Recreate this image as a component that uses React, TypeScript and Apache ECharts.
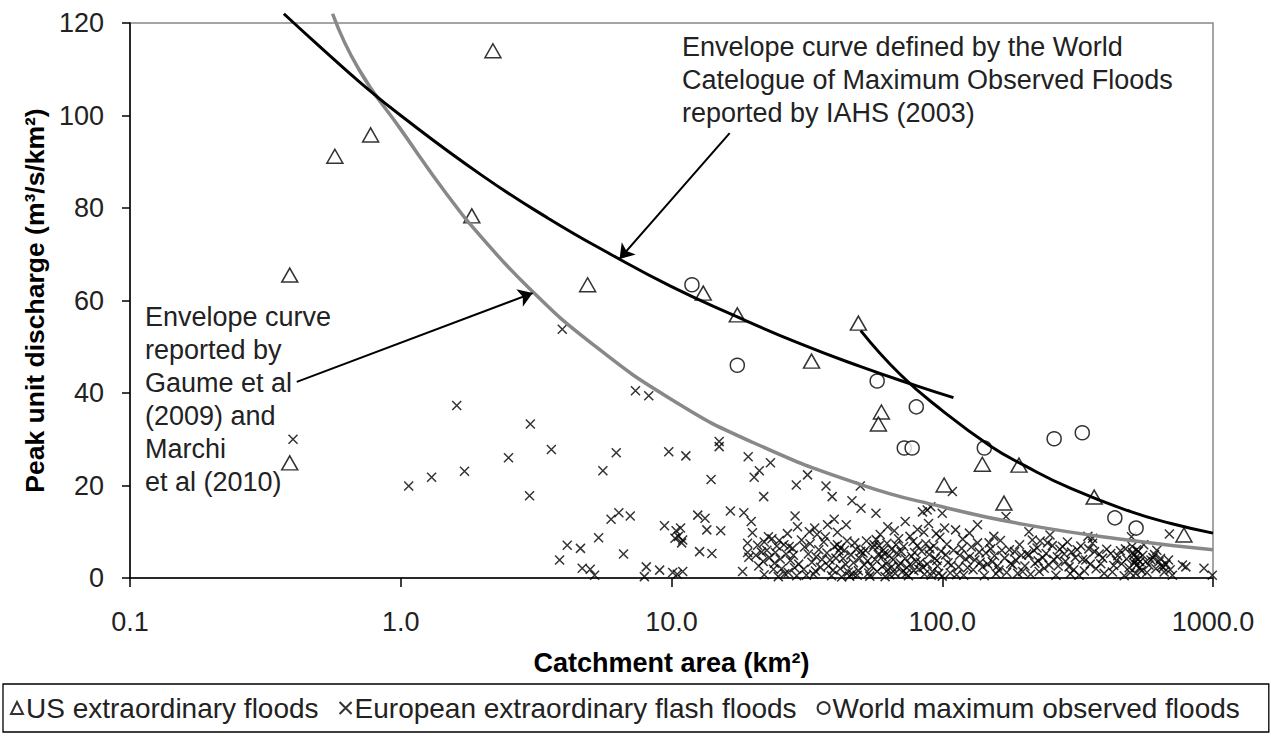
import React, { useEffect, useRef } from "react";
import * as echarts from "echarts";

// ---------- data ----------
const usFloods: number[][] = [
  [0.389, 65.5], [0.389, 24.9], [0.571, 91.2], [0.774, 95.8], [1.83, 78.3], [2.19, 114.0],
  [4.9, 63.4], [13.1, 61.6], [17.5, 56.9], [32.9, 46.9], [49.0, 55.1], [59.6, 35.9],
  [58.1, 33.3], [101.6, 20.1], [140.6, 24.6], [192, 24.4], [169, 16.2], [364, 17.5], [781, 9.3],
];

const worldFloods: number[][] = [
  [11.9, 63.4], [17.5, 46.0], [57.5, 42.6], [80.2, 37.0], [72.4, 28.1], [77.4, 28.1],
  [143, 28.1], [259, 30.1], [329, 31.4], [434, 13.0], [520, 10.8],
];

const europeFloods: number[][] = [
  [0.4, 30.0], [1.07, 19.9], [1.3, 21.8], [1.61, 37.3], [1.72, 23.1], [2.5, 26.0], [2.99, 17.8],
  [3.01, 33.3], [3.6, 27.8], [3.95, 53.8], [3.86, 3.9], [4.12, 7.1], [4.61, 6.4], [4.68, 2.1],
  [5.01, 1.9], [5.2, 0.6], [5.38, 8.7], [5.58, 23.2], [5.98, 12.7], [6.25, 27.1], [6.39, 14.1],
  [6.65, 5.2], [7.04, 13.4], [7.36, 40.5], [7.94, 0.3], [8.07, 2.4], [8.24, 39.4], [9.04, 1.7],
  [9.42, 11.3], [9.77, 27.3], [10.1, 1.2], [10.3, 8.6], [10.4, 10.2], [10.6, 9.0], [10.9, 7.6],
  [11.0, 8.2], [10.8, 10.8], [11.0, 1.4], [10.5, 0.8], [11.3, 26.4], [12.5, 13.6], [12.7, 5.7],
  [13.3, 12.9], [13.5, 10.4], [14.0, 21.3], [14.1, 5.3], [15.0, 29.5], [15.0, 28.4], [15.2, 10.2],
  [16.5, 14.5], [18.3, 1.4], [18.5, 14.1], [19.1, 7.5], [19.1, 5.5], [19.3, 4.5], [19.2, 26.2],
  [19.7, 12.2], [19.9, 9.8], [20.2, 21.8], [21.1, 23.2], [21.9, 17.6], [23.2, 24.9], [28.6, 13.4],
  [28.9, 20.1], [29.2, 11.1], [31.8, 22.3], [32.3, 10.0], [37.2, 19.9], [37.7, 11.5], [39.2, 17.6],
  [39.9, 12.7], [44.2, 11.5], [46.4, 16.7], [49.8, 19.9], [50.1, 15.1], [56.9, 14.0], [62.9, 11.1],
  [73.0, 12.2], [84.5, 14.3], [88, 14.7], [90.7, 15.4], [100, 14.0], [109, 18.7], [172, 13.3],
  [209, 10.0], [215, 8.2], [359, 8.6], [794, 2.4], [926, 2.1], [994, 0.6], [708, 0.6], [771, 2.8],
  [22, 7.8], [23.5, 8.5], [24.5, 6.9], [25, 8.1], [26, 7.2], [22.5, 6.0], [23, 4.4], [24, 3.2],
  [25.5, 2.0], [27, 1.2], [21, 2.6], [22, 0.7], [26.5, 5.2], [27.5, 3.8], [28, 6.4], [29, 0.5],
  [20.5, 4.9], [24.8, 0.3], [28.5, 2.2],
  [31, 6.7], [32, 5.2], [33, 3.4], [34, 1.5], [31.5, 0.6], [35, 6.1], [36, 4.0], [38, 2.6],
  [40, 6.8], [41, 7.2], [42, 6.5], [41.5, 5.9], [43, 4.2], [44, 2.9], [45, 1.3], [45.5, 0.4],
  [46.5, 0.9], [39, 0.5], [37, 8.9], [34.5, 9.4], [42.5, 0.2],
  [48, 6.2], [50, 5.8], [51, 5.4], [52, 6.0], [53, 3.7], [55, 2.5], [57, 8.3], [58, 5.1],
  [60, 4.6], [60.5, 6.0], [61, 5.3], [62, 3.1], [63, 1.8], [64, 0.7], [54, 0.4], [49, 1.6],
  [47, 3.3], [56, 7.2], [59, 9.4], [65, 2.4],
  [66, 4.0], [68, 5.4], [70, 3.2], [71, 1.3], [72, 6.8], [74, 2.2], [75, 0.5], [77, 4.7],
  [78, 7.9], [80, 3.6], [82, 1.9], [84, 5.8], [86, 0.8], [88, 3.0], [90, 6.3], [92, 1.4],
  [94, 4.2], [96, 2.6], [98, 8.8], [100, 0.4], [103, 5.0], [105, 3.3], [107, 1.1], [95, 9.6],
  [69, 8.5], [81, 10.5], [89, 11.8], [76, 9.0],
  [112, 10.4], [115, 2.4], [118, 6.4], [122, 4.1], [126, 9.7], [126, 4.6], [130, 1.8], [135, 7.6],
  [138, 3.4], [141, 2.4], [145, 5.4], [149, 7.6], [153, 3.5], [158, 0.9], [162, 1.7], [166, 6.0],
  [170, 4.3], [177, 6.1], [182, 2.8], [187, 3.9], [193, 7.2], [198, 1.4], [135, 11.5], [155, 9.0],
  [120, 0.6], [102, 10.8],
  [205, 5.2], [209, 5.0], [220, 3.2], [224, 6.5], [228, 1.4], [235, 4.4], [242, 5.3], [248, 2.8],
  [255, 7.0], [263, 0.6], [266, 4.6], [272, 6.2], [278, 6.8], [285, 3.6], [294, 2.4], [300, 5.6],
  [306, 1.8], [315, 6.1], [320, 0.6], [330, 4.0], [339, 3.9], [348, 6.3], [359, 7.5], [370, 2.0],
  [380, 5.2], [391, 4.3], [396, 1.0], [230, 8.0], [250, 9.3], [290, 7.8], [345, 9.0],
  [419, 5.3], [430, 2.7], [445, 4.8], [460, 3.1], [475, 6.3], [490, 2.2], [503, 6.8], [510, 5.0],
  [515, 3.8], [520, 4.5], [525, 2.9], [530, 5.8], [537, 3.5], [518, 1.0], [545, 1.6], [565, 3.5],
  [580, 2.8], [600, 4.4], [615, 2.0], [632, 3.5], [645, 2.6], [660, 1.3], [685, 3.9], [470, 0.5],
  [555, 7.2], [620, 6.0], [500, 8.9], [690, 9.5],
  [20.8, 7.1], [21.5, 5.6], [22.8, 8.9], [23.8, 1.9], [24.2, 5.5], [25.2, 4.1], [26.2, 0.9],
  [27.2, 6.8], [28.2, 4.9], [29.5, 3.0], [30.2, 8.2], [30.8, 1.9], [32.5, 7.4], [33.5, 0.8],
  [34.2, 4.6], [35.5, 2.3], [36.5, 7.8], [37.5, 5.4], [38.5, 3.9], [39.5, 1.7], [40.5, 4.3],
  [42, 2.0], [43.5, 6.0], [44.5, 8.0], [21.8, 3.6], [26.8, 9.6], [33.8, 10.8], [41, 9.9],
  [46, 5.0], [47.5, 7.6], [48.5, 0.6], [49.5, 4.2], [51.5, 2.8], [52.5, 8.0], [53.5, 1.1],
  [55.5, 6.6], [56.5, 4.0], [57.5, 1.4], [58.5, 7.0], [60, 2.5], [61.5, 0.3], [62.5, 7.5],
  [63.5, 4.8], [65, 6.2], [67, 1.0], [67.5, 7.2], [69, 2.6], [70.5, 5.7], [73, 4.2], [73.5, 0.9],
  [76, 2.9], [78.5, 1.6], [79, 5.5], [81, 7.0], [83, 3.4], [85, 2.3], [87, 7.4], [89.5, 5.1],
  [91, 0.6], [93, 6.9], [95.5, 3.8], [97, 1.0], [99, 5.8], [66.5, 10.2], [85.5, 9.9],
  [104, 7.3], [108, 2.8], [110, 6.0], [113, 0.7], [116, 4.9], [119, 8.4], [124, 2.2], [128, 6.7],
  [132, 3.9], [137, 5.6], [143, 0.5], [147, 3.0], [151, 6.3], [156, 4.8], [160, 2.6], [164, 8.1],
  [173, 1.2], [179, 3.1], [185, 5.7], [190, 1.0], [196, 4.9], [202, 2.6], [212, 0.8], [218, 6.0],
  [226, 3.7], [238, 2.1], [245, 7.6], [258, 4.0], [268, 2.6], [282, 5.2], [297, 0.9], [310, 4.4],
  [325, 6.9], [335, 1.5], [352, 3.0], [365, 5.7], [385, 3.1], [405, 6.2], [425, 1.3], [440, 3.8],
  [455, 5.9], [480, 4.1], [495, 1.2], [505, 5.5], [512, 3.2], [522, 6.1], [528, 4.0], [535, 2.2],
  [550, 4.9], [570, 1.2], [590, 3.9], [608, 5.1], [640, 4.2], [655, 2.3], [670, 3.0], [695, 1.8],
];

// envelope curves
const worldEnvelopeA: number[][] = [
  [0.37, 122], [0.5, 115], [0.7, 107.4], [1, 100], [2, 87], [3.5, 77.8], [6, 69.9],
  [10, 63], [17, 56.8], [30, 50.6], [50, 45.7], [80, 41.6], [110, 39],
];
const worldEnvelopeB: number[][] = [
  [50, 53.5], [70, 44], [100, 36.2], [150, 28.6], [200, 24.4], [300, 19.3], [500, 14.3],
  [700, 11.8], [1000, 9.7],
];
const gaumeEnvelope: number[][] = [
  [0.56, 122], [0.7, 110], [1, 97], [1.5, 82.5], [2, 73.5], [3, 62.5], [5, 51], [10, 38.6],
  [20, 29.3], [50, 20.2], [100, 15.4], [200, 11.6], [500, 8.1], [1000, 6.1],
];

// annotation arrows (data coordinates: from -> to)
const arrowWorld: number[][] = [[16.4, 96.2], [6.43, 69]];
const arrowGaume: number[][] = [[0.413, 42.4], [3.07, 61.6]];

const seriesNames = [
  "US extraordinary floods",
  "European extraordinary flash floods",
  "World maximum observed floods",
];
const yTicks = [0, 20, 40, 60, 80, 100, 120];

const FONT = '"Liberation Sans", Arial, sans-serif';

export default function App() {
  const ref = useRef<HTMLDivElement>(null);
  useEffect(() => {
    if (!ref.current) return;
    const chart = echarts.init(ref.current, undefined, { renderer: "svg" });
    const crossPath = "path://M0,0L10,10M0,10L10,0";
    chart.setOption({
      animation: false,
      backgroundColor: "#fff",
      textStyle: { fontFamily: FONT },
      grid: {
        left: 130, right: 58, top: 23, bottom: 167,
        show: true, borderColor: "#888", borderWidth: 1.5, backgroundColor: "transparent",
      },
      xAxis: {
        type: "log", logBase: 10, min: 0.1, max: 1000,
        name: "Catchment area (km²)", nameLocation: "middle", nameGap: 71,
        nameTextStyle: { fontSize: 27, fontWeight: "bold", color: "#000", fontFamily: FONT },
        axisLine: { show: true, onZero: false, lineStyle: { color: "#000", width: 1.5 } },
        axisTick: { show: true, length: 9, inside: false, lineStyle: { color: "#000", width: 1.5 } },
        minorTick: { show: false },
        splitLine: { show: false },
        axisLabel: {
          fontSize: 27, color: "#222", margin: 30, fontFamily: FONT,
          formatter: (v: number) => (v < 1 ? String(Math.round(v * 10) / 10) : (Math.round(v)).toFixed(1)),
        },
      },
      yAxis: {
        type: "value", min: yTicks[0], max: yTicks[yTicks.length - 1], interval: 20,
        name: "Peak unit discharge (m³/s/km²)", nameLocation: "middle", nameGap: 76,
        nameTextStyle: { fontSize: 26.5, fontWeight: "bold", color: "#000", fontFamily: FONT },
        axisLine: { show: true, lineStyle: { color: "#000", width: 1.5 } },
        axisTick: { show: true, length: 8, lineStyle: { color: "#000", width: 1.5 } },
        splitLine: { show: false },
        axisLabel: { fontSize: 27, color: "#222", margin: 26, fontFamily: FONT },
      },
      legend: {
        data: seriesNames,
        left: 3, top: 684,
        orient: "horizontal",
        borderColor: "#000", borderWidth: 1.3,
        padding: [10, 29, 10, 7],
        itemGap: 20, itemWidth: 12, itemHeight: 12,
        textStyle: { fontSize: 28, color: "#222", fontFamily: FONT, padding: [0, 0, 0, -2] },
      },
      graphic: [
        {
          type: "text", left: 682, top: 30, z: 10,
          style: {
            text: "Envelope curve defined by the World\nCatelogue of Maximum Observed Floods\nreported by IAHS (2003)",
            fontSize: 27, fontFamily: FONT, lineHeight: 33, fill: "#222",
          },
        },
        {
          type: "text", left: 145, top: 300, z: 10,
          style: {
            text: "Envelope curve\nreported by\nGaume et al\n(2009) and\nMarchi\net al (2010)",
            fontSize: 27, fontFamily: FONT, lineHeight: 33, fill: "#222",
          },
        },
      ],
      series: [
        {
          name: seriesNames[1], type: "scatter", data: europeFloods, z: 2,
          symbol: crossPath, symbolSize: 9,
          itemStyle: { color: "transparent", borderColor: "#000", borderWidth: 1.5 },
        },
        {
          name: seriesNames[0], type: "scatter", data: usFloods, z: 3,
          symbol: "triangle", symbolSize: [16, 14],
          itemStyle: { color: "#fff", borderColor: "#000", borderWidth: 1.5 },
        },
        {
          name: seriesNames[2], type: "scatter", data: worldFloods, z: 3,
          symbol: "circle", symbolSize: 14,
          itemStyle: { color: "#fff", borderColor: "#000", borderWidth: 1.5 },
        },
        {
          name: "gaume", type: "line", data: gaumeEnvelope, smooth: true, clip: false, z: 4,
          symbol: "none", lineStyle: { color: "#888", width: 3.5 },
        },
        {
          name: "worldA", type: "line", data: worldEnvelopeA, smooth: true, clip: false, z: 4,
          symbol: "none", lineStyle: { color: "#000", width: 3 },
        },
        {
          name: "worldB", type: "line", data: worldEnvelopeB, smooth: true, clip: false, z: 4,
          symbol: "none", lineStyle: { color: "#000", width: 3 },
        },
        {
          name: "arrows", type: "lines", coordinateSystem: "cartesian2d", z: 5,
          symbol: ["none", "arrow"], symbolSize: 14,
          lineStyle: { color: "#000", width: 2, opacity: 1 },
          data: [{ coords: arrowWorld }, { coords: arrowGaume }],
        },
      ],
    });
    return () => chart.dispose();
  }, []);
  return (
    <div
      ref={ref}
      style={{ position: "absolute", left: 0, top: 0, width: 1271, height: 745 }}
    />
  );
}
